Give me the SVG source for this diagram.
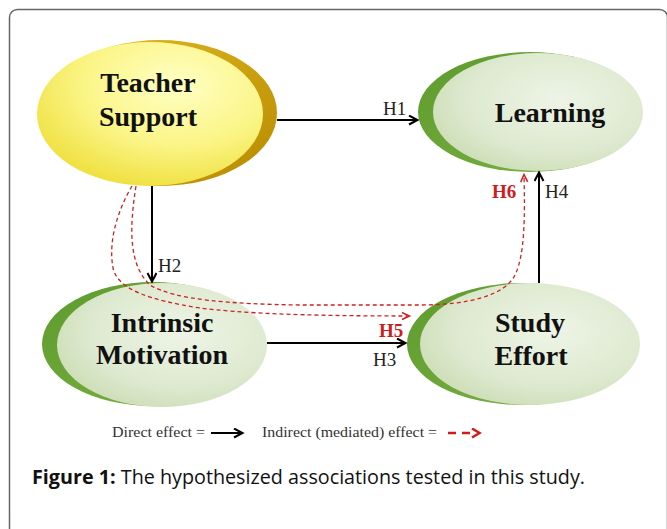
<svg xmlns="http://www.w3.org/2000/svg" width="667" height="529" viewBox="0 0 667 529">
<defs>
<radialGradient id="gY" cx="0.62" cy="0.3" r="0.75">
<stop offset="0" stop-color="#ffffc4"/>
<stop offset="0.55" stop-color="#fbf587"/>
<stop offset="1" stop-color="#eedf3c"/>
</radialGradient>
<linearGradient id="gGold" x1="0" y1="0" x2="1" y2="1">
<stop offset="0" stop-color="#e2bb22"/>
<stop offset="1" stop-color="#b88a00"/>
</linearGradient>
<radialGradient id="gG" cx="0.6" cy="0.4" r="0.75">
<stop offset="0" stop-color="#eef4e6"/>
<stop offset="0.6" stop-color="#dde9cf"/>
<stop offset="1" stop-color="#c5d9ab"/>
</radialGradient>
<linearGradient id="gDark" x1="0" y1="0" x2="1" y2="1">
<stop offset="0" stop-color="#5e9a2e"/>
<stop offset="1" stop-color="#7cb344"/>
</linearGradient>
<marker id="ab" markerWidth="12" markerHeight="12" refX="9" refY="5" orient="auto" markerUnits="userSpaceOnUse">
<path d="M1,0.5 L9.5,5 L1,9.5" fill="none" stroke="#000" stroke-width="2"/>
</marker>
<marker id="ar" markerWidth="12" markerHeight="12" refX="8" refY="4" orient="auto" markerUnits="userSpaceOnUse">
<path d="M1,0.5 L8.5,4 L1,7.5" fill="none" stroke="#d01c1c" stroke-width="1.5"/>
</marker>
<marker id="arL" markerWidth="12" markerHeight="12" refX="8" refY="5" orient="auto" markerUnits="userSpaceOnUse">
<path d="M1,0.5 L8.5,5 L1,9.5" fill="none" stroke="#d01c1c" stroke-width="2.5"/>
</marker>
</defs>
<style>
.node text{font-family:"Liberation Serif","Times New Roman",serif;font-weight:bold;font-size:28px;fill:#111;text-anchor:middle}
.lbl{font-family:"Liberation Serif","Times New Roman",serif;font-size:19px;fill:#222}
.rlbl{font-family:"Liberation Serif","Times New Roman",serif;font-size:19px;font-weight:bold;fill:#d01c1c}
.solid{fill:none;stroke:#000;stroke-width:2;marker-end:url(#ab)}
.dash{fill:none;stroke:#cc2222;stroke-width:1.3;stroke-dasharray:4 3;marker-end:url(#ar)}
.leg{font-family:"Liberation Serif","Times New Roman",serif;font-size:15.5px;fill:#333}
</style>
<rect x="9.5" y="9.5" width="658" height="540" rx="8" fill="#fff" stroke="#666" stroke-width="1.5"/>

<g id="teacher-support" class="node">
<ellipse cx="160" cy="113" rx="117" ry="73" fill="url(#gGold)"/>
<ellipse cx="150" cy="114" rx="113" ry="72" fill="url(#gY)"/>
<text x="148" y="92">Teacher</text>
<text x="148" y="126">Support</text>
</g>

<g id="learning" class="node">
<ellipse cx="530" cy="112" rx="112" ry="60" fill="url(#gDark)"/>
<ellipse cx="538" cy="112" rx="105" ry="59" fill="url(#gG)"/>
<text x="550" y="122">Learning</text>
</g>

<g id="intrinsic-motivation" class="node">
<ellipse cx="153" cy="344" rx="111" ry="62" fill="url(#gDark)"/>
<ellipse cx="162" cy="345" rx="105" ry="62" fill="url(#gG)"/>
<text x="162" y="332">Intrinsic</text>
<text x="162" y="364">Motivation</text>
</g>

<g id="study-effort" class="node">
<ellipse cx="522" cy="344" rx="115" ry="61" fill="url(#gDark)"/>
<ellipse cx="530" cy="344" rx="110" ry="61" fill="url(#gG)"/>
<text x="530" y="332">Study</text>
<text x="531" y="365">Effort</text>
</g>

<g id="connectors">
<path class="solid" d="M277,120 L417,120"/>
<path class="solid" d="M152,186 L152,281"/>
<path class="solid" d="M267,343 L405,343"/>
<path class="solid" d="M539,283 L539,173"/>
<path class="dash" d="M132,186 C118,210 108,240 113,268 C118,290 150,300 200,308 C240,313 300,316 409,316"/>
<path class="dash" d="M136,186 C129,230 129,265 150,285 C175,300 230,304 300,305 L420,305 C470,305 505,295 515,275 C525,255 525,215 524,175"/>
<text class="lbl" x="383" y="115">H1</text>
<text class="lbl" x="158" y="272">H2</text>
<text class="lbl" x="373" y="366">H3</text>
<text class="lbl" x="545" y="198">H4</text>
<text class="rlbl" x="379" y="337">H5</text>
<text class="rlbl" x="492" y="198">H6</text>
</g>

<g id="legend">
<text class="leg" x="112" y="437" textLength="93" lengthAdjust="spacingAndGlyphs">Direct effect =</text>
<path class="solid" d="M211,433 L242,433"/>
<text class="leg" x="262" y="437" textLength="175" lengthAdjust="spacingAndGlyphs">Indirect (mediated) effect =</text>
<path d="M448,433 L456,433 M462,433 L470,433" stroke="#d01c1c" stroke-width="2.5" fill="none"/>
<path d="M470,433 L479,433" stroke="none" fill="none" marker-end="url(#arL)"/>
</g>

<text x="32" y="484" font-family="'Open Sans','Noto Sans',sans-serif" font-size="20" fill="#111" textLength="553" lengthAdjust="spacingAndGlyphs"><tspan font-weight="bold">Figure 1:</tspan> The hypothesized associations tested in this study.</text>
</svg>
